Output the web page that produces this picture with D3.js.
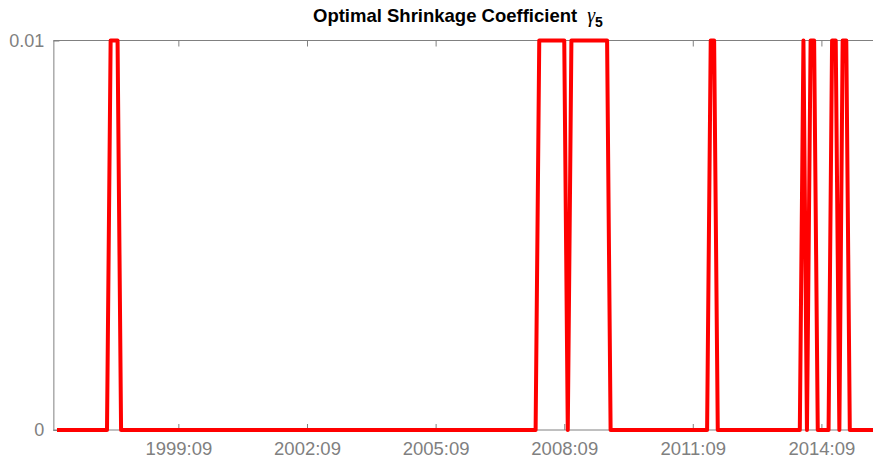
<!DOCTYPE html>
<html>
<head>
<meta charset="utf-8">
<script src="https://cdn.jsdelivr.net/npm/d3@7"></script>
<style>
  html, body { margin: 0; padding: 0; background: #fff; }
  svg { display: block; }
</style>
</head>
<body>
<svg id="chart" width="873" height="465"></svg>
<script>
// ---- Data (monthly, starting 1996:11) ----
const startMonth = [1996, 11];
// Optimal shrinkage coefficient gamma_5, one value per month from 1996:11 to 2015:12
const gammaValues = [
  /*1996 11-12*/ 0, 0,
  /*1997*/ 0, 0, 0, 0, 0, 0, 0, 0, 0, 0, 0, 0,
  /*1998*/ 0, 0.01, 0.01, 0.01, 0, 0, 0, 0, 0, 0, 0, 0,
  /*1999*/ 0, 0, 0, 0, 0, 0, 0, 0, 0, 0, 0, 0,
  /*2000*/ 0, 0, 0, 0, 0, 0, 0, 0, 0, 0, 0, 0,
  /*2001*/ 0, 0, 0, 0, 0, 0, 0, 0, 0, 0, 0, 0,
  /*2002*/ 0, 0, 0, 0, 0, 0, 0, 0, 0, 0, 0, 0,
  /*2003*/ 0, 0, 0, 0, 0, 0, 0, 0, 0, 0, 0, 0,
  /*2004*/ 0, 0, 0, 0, 0, 0, 0, 0, 0, 0, 0, 0,
  /*2005*/ 0, 0, 0, 0, 0, 0, 0, 0, 0, 0, 0, 0,
  /*2006*/ 0, 0, 0, 0, 0, 0, 0, 0, 0, 0, 0, 0,
  /*2007*/ 0, 0, 0, 0, 0, 0, 0, 0, 0, 0, 0, 0,
  /*2008*/ 0, 0.01, 0.01, 0.01, 0.01, 0.01, 0.01, 0.01, 0.01, 0, 0.01, 0.01,
  /*2009*/ 0.01, 0.01, 0.01, 0.01, 0.01, 0.01, 0.01, 0.01, 0.01, 0, 0, 0,
  /*2010*/ 0, 0, 0, 0, 0, 0, 0, 0, 0, 0, 0, 0,
  /*2011*/ 0, 0, 0, 0, 0, 0, 0, 0, 0, 0, 0, 0,
  /*2012*/ 0, 0.01, 0.01, 0, 0, 0, 0, 0, 0, 0, 0, 0,
  /*2013*/ 0, 0, 0, 0, 0, 0, 0, 0, 0, 0, 0, 0,
  /*2014*/ 0, 0, 0, 0.01, 0, 0.01, 0.01, 0, 0, 0, 0, 0.01,
  /*2015*/ 0.01, 0, 0.01, 0.01, 0, 0, 0, 0, 0, 0, 0, 0
];
const yTickValues = [0, 0.01];
const yTickLabels = ["0", "0.01"];
const xTickLabels = ["1999:09", "2002:09", "2005:09", "2008:09", "2011:09", "2014:09"];
const titleText = "Optimal Shrinkage Coefficient";
const titleSymbol = "\u03B3";
const titleSub = "5";

// ---- Build dates ----
const parseYM = d3.timeParse("%Y:%m");
const dates = gammaValues.map((v, i) => new Date(startMonth[0], startMonth[1] - 1 + i, 1));
const series = gammaValues.map((v, i) => ({ date: dates[i], value: v }));
const xTickDates = xTickLabels.map(parseYM);

// ---- Layout ----
const svg = d3.select("#chart");
const W = 873, H = 465;
const plotTop = 40.5, plotBottom = 430;

// anchor scale: first data point and the 2014:09 tick
const anchor = d3.scaleTime()
  .domain([dates[0], parseYM("2014:09")])
  .range([57, 821.4]);
const xMin = new Date(startMonth[0], startMonth[1] - 2, 1);
const xMax = new Date(2016, 1, 1);
const x = d3.scaleTime().domain([xMin, xMax]).range([anchor(xMin), anchor(xMax)]);
const y = d3.scaleLinear().domain([0, 0.01]).range([plotBottom, plotTop]);

const left = x(xMin);
const axisColor = "#808080";
const textColor = "#808080";
const font = "'Liberation Sans', Arial, Helvetica, sans-serif";

// top box line
svg.append("line").attr("x1", left).attr("x2", W).attr("y1", plotTop).attr("y2", plotTop)
  .attr("stroke", axisColor).attr("stroke-width", 1);

// bottom axis
const xAxis = d3.axisBottom(x).tickValues(xTickDates)
  .tickFormat((d, i) => xTickLabels[i]).tickSizeInner(-6).tickSizeOuter(0).tickPadding(12);
const gx = svg.append("g").attr("transform", `translate(0,${plotBottom})`).call(xAxis);
gx.select(".domain").remove();
gx.append("line").attr("x1", left).attr("x2", W).attr("y1", 0).attr("y2", 0)
  .attr("stroke", axisColor);
gx.selectAll(".tick line").attr("stroke", axisColor);
gx.selectAll(".tick text").attr("fill", textColor).attr("font-size", 18.5).attr("font-family", font);

// top ticks
const xTop = d3.axisTop(x).tickValues(xTickDates).tickFormat("").tickSizeInner(-6).tickSizeOuter(0);
const gxt = svg.append("g").attr("transform", `translate(0,${plotTop})`).call(xTop);
gxt.select(".domain").remove();
gxt.selectAll(".tick line").attr("stroke", axisColor);

// left axis
const yAxis = d3.axisLeft(y).tickValues(yTickValues)
  .tickFormat((d, i) => yTickLabels[i]).tickSizeInner(-6).tickSizeOuter(0).tickPadding(9);
const gy = svg.append("g").attr("transform", `translate(${left},0)`).call(yAxis);
gy.select(".domain").attr("stroke", axisColor);
gy.selectAll(".tick line").attr("stroke", axisColor);
gy.selectAll(".tick text").attr("fill", textColor).attr("font-size", 18).attr("font-family", font);

// line
const line = d3.line().x(d => x(d.date)).y(d => y(d.value));
svg.append("path").datum(series)
  .attr("d", line)
  .attr("fill", "none")
  .attr("stroke", "#ff0000")
  .attr("stroke-width", 4)
  .attr("stroke-linejoin", "round")
  .attr("stroke-linecap", "butt");

// title
const title = svg.append("text")
  .attr("x", 313).attr("y", 22)
  .attr("text-anchor", "start")
  .attr("font-family", font)
  .attr("fill", "#000");
title.append("tspan").attr("font-weight", "bold").attr("font-size", 18.5).text(titleText);
title.append("tspan").attr("font-size", 20).attr("font-style", "italic")
  .attr("font-family", "'Liberation Serif', 'DejaVu Serif', serif")
  .attr("dx", 10).text(titleSymbol);
title.append("tspan").attr("font-weight", "bold").attr("font-size", 14).attr("dy", 5).text(titleSub);
</script>
</body>
</html>
